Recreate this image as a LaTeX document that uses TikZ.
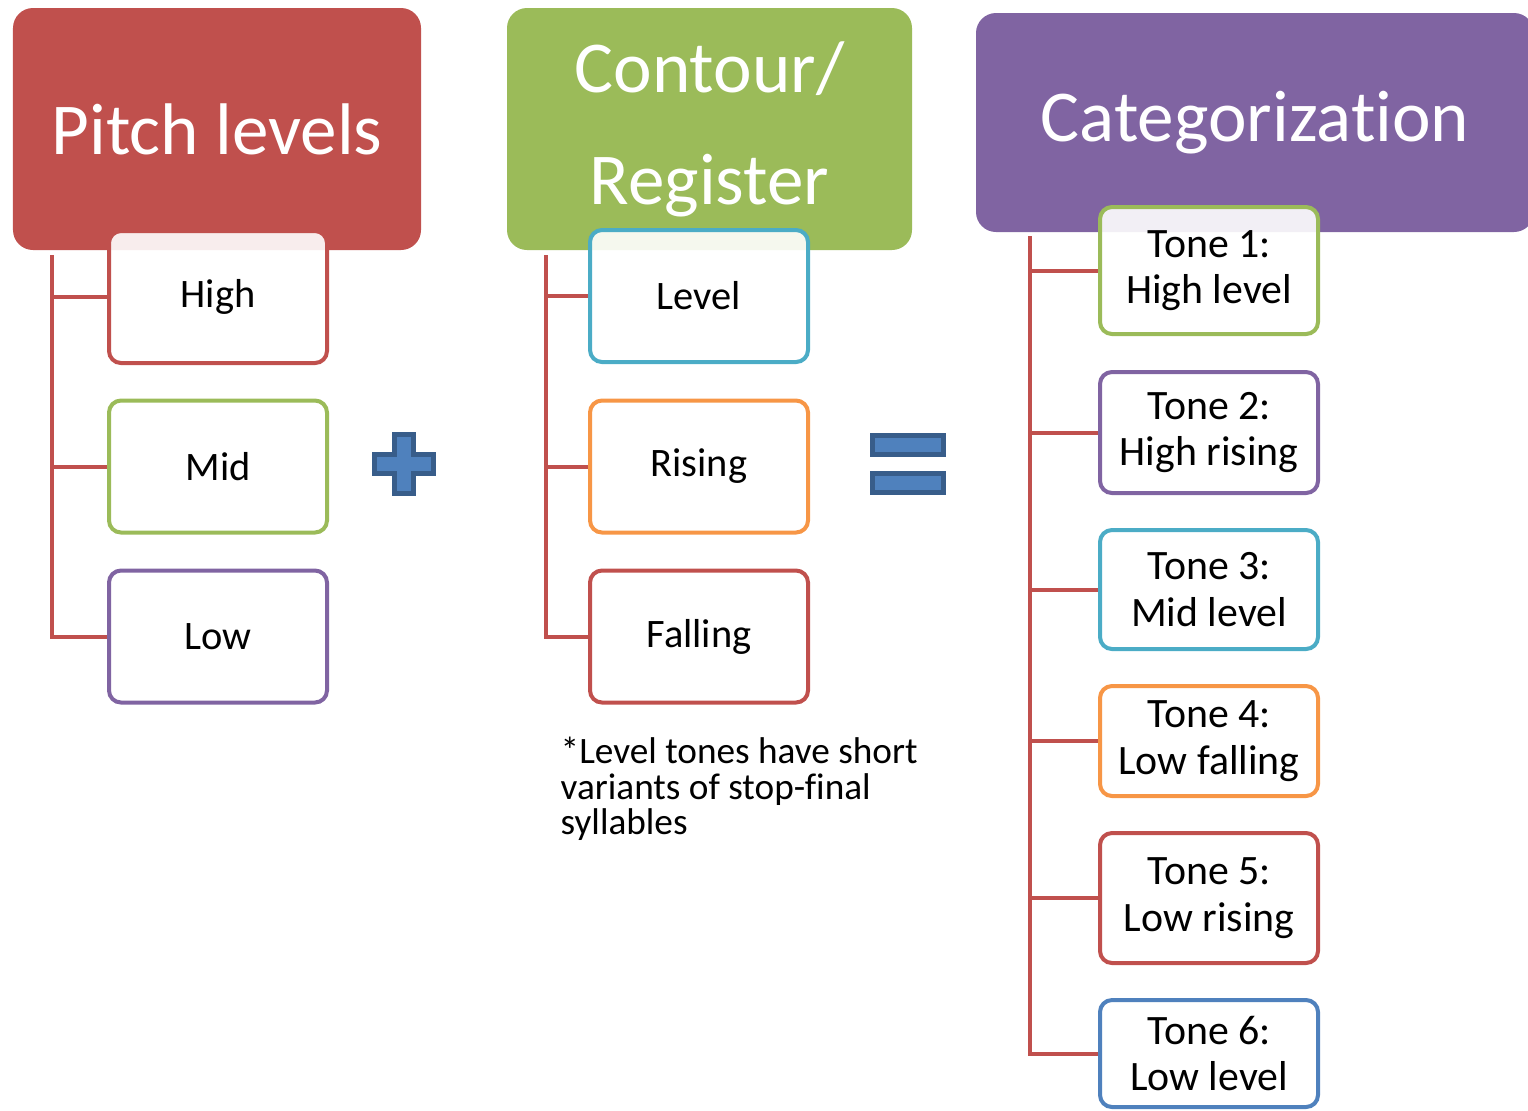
\documentclass[tikz,border=0pt]{standalone}
\usepackage{fontspec}
\setmainfont{Carlito}[RawFeature={-liga;-clig;-calt;-dlig}]
\usetikzlibrary{positioning}

\definecolor{hdred}{HTML}{C0504D}
\definecolor{hdgreen}{HTML}{9BBB59}
\definecolor{hdpurple}{HTML}{8064A2}
\definecolor{lfaqua}{HTML}{4BACC6}
\definecolor{lforange}{HTML}{F79646}
\definecolor{lfblue}{HTML}{4F81BD}
\definecolor{signedge}{HTML}{385D8A}

\begin{document}
\begin{tikzpicture}[
    header/.style={
        rectangle,
        rounded corners=0.2cm,
        minimum height=2.42cm,
        text=white,
        align=center,
        font=\fontsize{20.8}{31.9}\selectfont
    },
    leaf/.style={
        rectangle,
        line width=0.04cm,
        rounded corners=0.12cm,
        fill=white,
        fill opacity=0.9,
        text opacity=1,
        minimum width=2.18cm,
        minimum height=1.32cm,
        align=center,
        font=\fontsize{11.5}{13.8}\selectfont
    },
    tone/.style={leaf, font=\fontsize{11.9}{13.3}\selectfont},
    branch/.style={draw=hdred, line width=0.04cm},
    sign/.style={fill=lfblue, draw=signedge, line width=0.05cm},
    note/.style={align=left, inner sep=0pt, font=\fontsize{10.6}{10.2}\selectfont}
]
    \useasboundingbox (0,0) rectangle (15.28,-11.10);

    % Headers
    \node[header, fill=hdred, minimum width=4.08cm] (pitch) at (2.17,-1.29) {Pitch levels};
    \node[header, fill=hdgreen, minimum width=4.05cm] (contour) at (7.095,-1.29) {Contour/\\Register};
    \node[header, fill=hdpurple, minimum width=5.58cm, minimum height=2.19cm] (categ) at (12.55,-1.225) {Categorization};

    % Spines
    \coordinate (pitch-spine) at (0.52,-2.55);
    \coordinate (contour-spine) at (5.46,-2.55);
    \coordinate (categ-spine) at (10.30,-2.36);

    % Pitch levels
    \node[leaf, draw=hdred] (high) at (2.18,-2.97) {High};
    \node[leaf, draw=hdgreen] (mid) at (2.18,-4.665) {Mid};
    \node[leaf, draw=hdpurple] (low) at (2.18,-6.365) {Low};

    % Contour / register
    \node[leaf, draw=lfaqua] (level) at (6.99,-2.96) {Level};
    \node[leaf, draw=lforange] (rising) at (6.99,-4.665) {Rising};
    \node[leaf, draw=hdred] (falling) at (6.99,-6.365) {Falling};

    % Tones
    \node[tone, draw=hdgreen, minimum height=1.27cm] (tone1) at (12.09,-2.705) {Tone 1:\\High level};
    \node[tone, draw=hdpurple, minimum height=1.21cm] (tone2) at (12.09,-4.325) {Tone 2:\\High rising};
    \node[tone, draw=lfaqua, minimum height=1.19cm] (tone3) at (12.09,-5.895) {Tone 3:\\Mid level};
    \node[tone, draw=lforange, minimum height=1.10cm] (tone4) at (12.09,-7.41) {Tone 4:\\Low falling};
    \node[tone, draw=hdred, minimum height=1.30cm] (tone5) at (12.09,-8.98) {Tone 5:\\Low rising};
    \node[tone, draw=lfblue, minimum height=1.07cm] (tone6) at (12.09,-10.535) {Tone 6:\\Low level};

    % Connections
    \draw[branch] (pitch-spine) |- (high.west);
    \draw[branch] (pitch-spine) |- (mid.west);
    \draw[branch] (pitch-spine) |- (low.west);
    \draw[branch] (contour-spine) |- (level.west);
    \draw[branch] (contour-spine) |- (rising.west);
    \draw[branch] (contour-spine) |- (falling.west);
    \draw[branch] (categ-spine) |- (tone1.west);
    \draw[branch] (categ-spine) |- (tone2.west);
    \draw[branch] (categ-spine) |- (tone3.west);
    \draw[branch] (categ-spine) |- (tone4.west);
    \draw[branch] (categ-spine) |- (tone5.west);
    \draw[branch] (categ-spine) |- (tone6.west);

    % Plus and equals
    \draw[sign] (3.945,-4.345) -- (4.135,-4.345) -- (4.135,-4.545) -- (4.335,-4.545)
        -- (4.335,-4.735) -- (4.135,-4.735) -- (4.135,-4.935) -- (3.945,-4.935)
        -- (3.945,-4.735) -- (3.745,-4.735) -- (3.745,-4.545) -- (3.945,-4.545) -- cycle;
    \draw[sign] (8.725,-4.355) rectangle (9.435,-4.545);
    \draw[sign] (8.725,-4.735) rectangle (9.435,-4.925);

    % Footnote
    \node[note, anchor=north west] (note) at (5.60,-7.36) {*Level tones have short\\variants of stop-final\\syllables};
\end{tikzpicture}
\end{document}
